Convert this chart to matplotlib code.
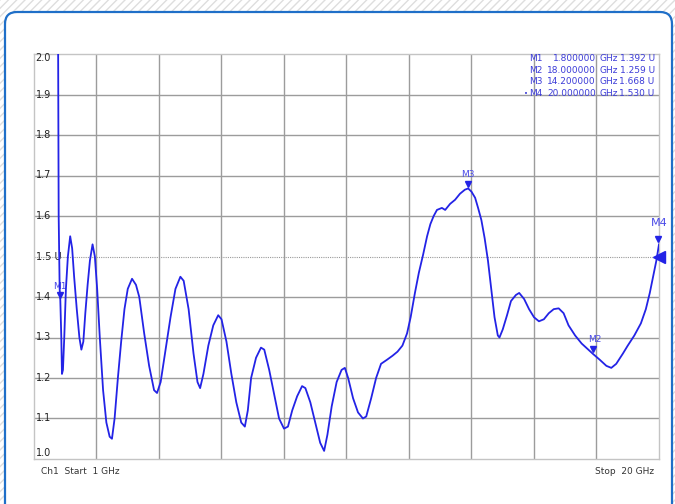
import matplotlib
matplotlib.use("Agg")
import matplotlib.pyplot as plt
from matplotlib.patches import Rectangle, FancyBboxPatch
from matplotlib.transforms import IdentityTransform

# trace (GHz, U)
freq = [1.73, 1.75, 1.78, 1.80, 1.83, 1.85, 1.88, 1.92, 1.97, 2.03, 2.10, 2.16, 2.22, 2.30,
        2.38, 2.44, 2.50, 2.56, 2.63, 2.70, 2.78, 2.85, 2.92, 3.00, 3.10, 3.20, 3.30, 3.37,
        3.45, 3.55, 3.65, 3.75, 3.85, 3.98, 4.10, 4.20, 4.35, 4.50, 4.65, 4.74, 4.85, 5.00,
        5.15, 5.30, 5.45, 5.55, 5.70, 5.85, 5.97, 6.05, 6.15, 6.30, 6.45, 6.60, 6.70, 6.85,
        7.00, 7.15, 7.30, 7.41, 7.50, 7.60, 7.75, 7.90, 8.00, 8.15, 8.30, 8.45, 8.60, 8.72,
        8.85, 9.00, 9.15, 9.25, 9.40, 9.55, 9.70, 9.82, 9.92, 10.05, 10.20, 10.35, 10.45,
        10.55, 10.70, 10.85, 11.00, 11.10, 11.25, 11.40, 11.55, 11.73, 11.90, 12.05, 12.20,
        12.34, 12.45, 12.58, 12.70, 12.83, 12.95, 13.05, 13.15, 13.25, 13.40, 13.50, 13.65,
        13.80, 13.95, 14.10, 14.20, 14.30, 14.41, 14.50, 14.60, 14.70, 14.80, 14.90, 15.00,
        15.10, 15.15, 15.25, 15.38, 15.50, 15.65, 15.75, 15.90, 16.05, 16.20, 16.35, 16.50,
        16.65, 16.80, 16.95, 17.10, 17.25, 17.45, 17.65, 17.85, 18.00, 18.20, 18.40, 18.55,
        18.70, 18.90, 19.05, 19.25, 19.45, 19.60, 19.72, 19.82, 19.92, 20.00]
vals = [2.10, 1.60, 1.42, 1.392, 1.30, 1.21, 1.22, 1.30, 1.42, 1.50, 1.55, 1.52, 1.45, 1.37,
        1.30, 1.27, 1.29, 1.36, 1.43, 1.49, 1.53, 1.50, 1.42, 1.30, 1.17, 1.09, 1.055, 1.05,
        1.10, 1.20, 1.29, 1.37, 1.42, 1.445, 1.43, 1.40, 1.31, 1.23, 1.17, 1.163, 1.19, 1.27,
        1.35, 1.42, 1.45, 1.44, 1.37, 1.26, 1.19, 1.175, 1.21, 1.28, 1.33, 1.355, 1.345, 1.29,
        1.21, 1.14, 1.09, 1.08, 1.12, 1.20, 1.25, 1.275, 1.27, 1.22, 1.16, 1.10, 1.075, 1.08,
        1.12, 1.155, 1.18, 1.175, 1.14, 1.09, 1.04, 1.02, 1.06, 1.13, 1.19, 1.22, 1.225,
        1.20, 1.15, 1.115, 1.10, 1.105, 1.15, 1.20, 1.235, 1.245, 1.255, 1.265, 1.28,
        1.31, 1.35, 1.41, 1.46, 1.505, 1.55, 1.58, 1.60, 1.615, 1.62, 1.615, 1.63,
        1.64, 1.655, 1.665, 1.668, 1.66, 1.645, 1.62, 1.59, 1.545, 1.49, 1.42, 1.35,
        1.305, 1.30, 1.32, 1.355, 1.39, 1.405, 1.41, 1.395, 1.37, 1.35, 1.34, 1.345,
        1.36, 1.37, 1.372, 1.36, 1.33, 1.305, 1.285, 1.27, 1.259, 1.245, 1.23, 1.225,
        1.235, 1.26, 1.28, 1.305, 1.335, 1.37, 1.41, 1.45, 1.49, 1.53]

marker_names = ["M1", "M2", "M3", "M4"]
marker_freq = [1.8, 18.0, 14.2, 20.0]
marker_vals = [1.392, 1.259, 1.668, 1.530]

ytick_vals = [2.0, 1.9, 1.8, 1.7, 1.6, 1.5, 1.4, 1.3, 1.2, 1.1, 1.0]
ytick_text = ["2.0", "1.9", "1.8", "1.7", "1.6", "1.5 U", "1.4", "1.3", "1.2", "1.1", "1.0"]

W, H = 675, 504
fig = plt.figure(figsize=(W / 100, H / 100), dpi=100)

# hatched page background + rounded panel
bg = Rectangle((0, 0), 1, 1, transform=fig.transFigure, facecolor="white",
               edgecolor="#dedede", hatch="////", lw=0, zorder=-10)
fig.patches.append(bg)
panel = FancyBboxPatch((5, -20), 667, 512, boxstyle="round,pad=0,rounding_size=12",
                       transform=IdentityTransform(), facecolor="white",
                       edgecolor="#1f6fc8", lw=1.6, zorder=-9)
fig.patches.append(panel)

ax = fig.add_axes([34 / W, (H - 459) / H, (659 - 34) / W, (459 - 54) / H])
ax.set_xlim(1, 20)
ax.set_ylim(1, 2)
ax.set_xticks([])
ax.set_yticks([])
for s in ax.spines.values():
    s.set_color("#c4c4c4")
    s.set_linewidth(1.0)

grid_c = "#9c9c9c"
for k in range(1, 10):
    ax.axvline(1 + 1.9 * k, color=grid_c, lw=1.0, zorder=1)
for v in ytick_vals[1:-1]:
    if v == 1.5:
        ax.axhline(v, color="#9a9a9a", lw=0.8, ls=(0, (1, 1)), zorder=1)
    else:
        ax.axhline(v, color=grid_c, lw=1.0, zorder=1)

for v, t in zip(ytick_vals, ytick_text):
    y = v
    if v == 2.0:
        y = 1.99
    elif v == 1.0:
        y = 1.015
    ax.text(1.05, y, t, fontsize=7, color="#222222", va="center", ha="left", zorder=3)

trace_c = "#2323e6"
ax.plot(freq, vals, color=trace_c, lw=1.3, zorder=4)

# marker triangles and labels
lab_c = "#4a4ae8"
for n, f, v in zip(marker_names, marker_freq, marker_vals):
    if n == "M4":
        ax.plot(f - 0.03, v + 0.012, marker="v", ms=5, color=trace_c, zorder=5, clip_on=False)
        ax.text(f, v + 0.04, n, fontsize=8, color=lab_c, ha="center", va="bottom", clip_on=False)
    elif n == "M2":
        ax.plot(f, v + 0.012, marker="v", ms=5, color=trace_c, zorder=5)
        ax.text(f + 0.06, v + 0.024, n, fontsize=6.5, color=lab_c, ha="center", va="bottom")
    else:
        ax.plot(f, v + 0.012, marker="v", ms=5, color=trace_c, zorder=5)
        ax.text(f, v + 0.024, n, fontsize=6.5, color=lab_c, ha="center", va="bottom")

# reference level arrow on the right edge
ax.plot(20, 1.5, marker="<", ms=9, color=trace_c, clip_on=False, zorder=6)

# marker table
tab_c = "#3c3cd8"
row_y = [1.988, 1.960, 1.931, 1.902]
for n, f, v, y in zip(marker_names, marker_freq, marker_vals, row_y):
    ax.text(16.05, y, n, fontsize=6.5, color=tab_c, ha="left", va="center", zorder=3)
    ax.text(18.08, y, "%.6f" % f, fontsize=6.5, color=tab_c, ha="right", va="center", zorder=3)
    ax.text(18.19, y, "GHz", fontsize=6.5, color=tab_c, ha="left", va="center", zorder=3)
    ax.text(19.87, y, "%.3f U" % v, fontsize=6.5, color=tab_c, ha="right", va="center", zorder=3)
ax.text(15.95, row_y[3], "\u2022", fontsize=5, color=tab_c, ha="center", va="center", zorder=3)

fig.text(41 / W, (H - 471) / H, "Ch1  Start  1 GHz", fontsize=6.5, color="#333333",
         ha="left", va="center")
fig.text(654 / W, (H - 471) / H, "Stop  20 GHz", fontsize=6.5, color="#333333",
         ha="right", va="center")

fig.savefig("out.png", dpi=100)
